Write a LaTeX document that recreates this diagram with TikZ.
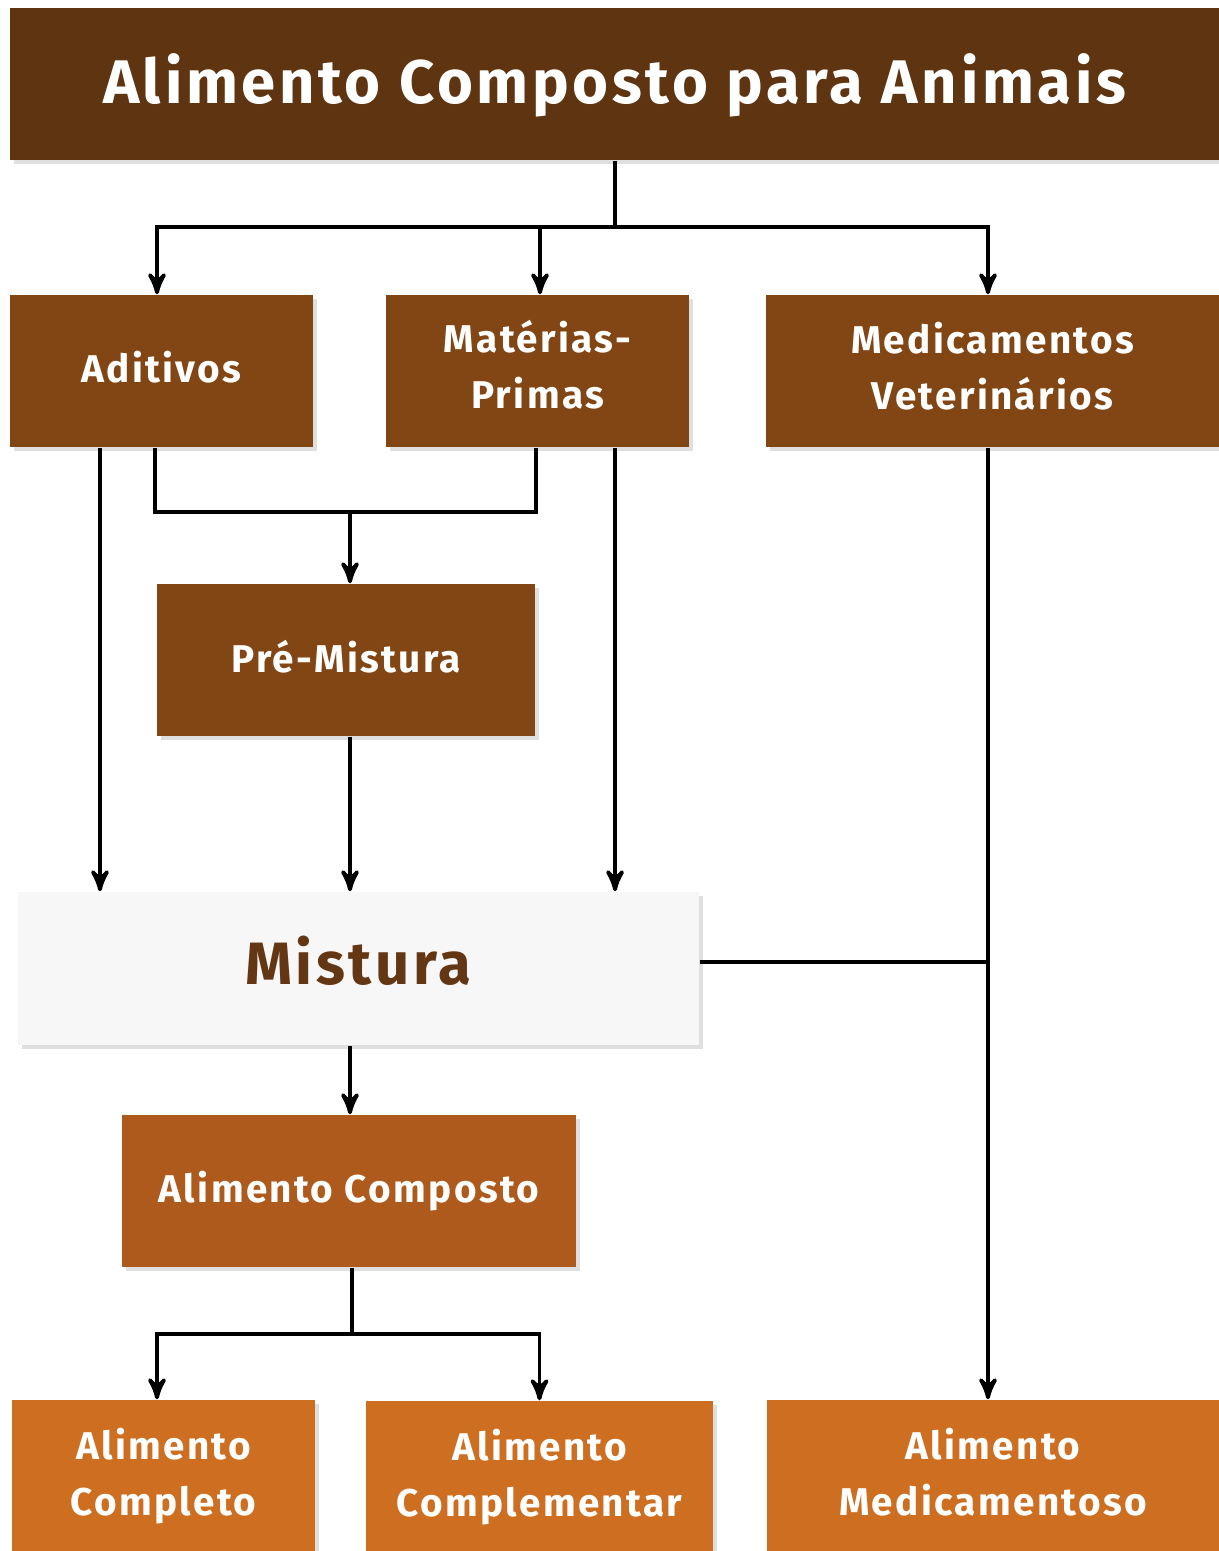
\documentclass[tikz,border=0pt]{standalone}
\usepackage{fontspec}
\setmainfont{Fira Sans}[LetterSpace=6.0]
\usetikzlibrary{arrows,shadows}
\definecolor{darkbrown}{RGB}{95, 52, 16}
\definecolor{brown}{RGB}{130, 70, 20}
\definecolor{rust}{RGB}{173, 90, 28}
\definecolor{ochre}{RGB}{205, 110, 32}
\definecolor{paper}{RGB}{247, 247, 247}
\definecolor{mixtext}{RGB}{100, 55, 20}

\begin{document}
\begin{tikzpicture}
  [
    x=0.01cm, y=-0.01cm,
    flow/.style={line width=1.1pt, ->, >=stealth'},
    link/.style={line width=1.1pt},
    box/.style={rectangle, inner sep=0pt, minimum height=1.52cm, align=center,
      text=white, font=\bfseries\fontsize{11}{16}\selectfont,
      drop shadow={opacity=0.25, shadow xshift=1.2pt, shadow yshift=-1.2pt}},
    header/.style={box, fill=darkbrown, font=\bfseries\fontsize{17.5}{21}\selectfont},
    input/.style={box, fill=brown},
    mix/.style={box, fill=paper, text=mixtext, font=\bfseries\fontsize{17}{20}\selectfont},
    product/.style={box, fill=rust},
    final/.style={box, fill=ochre}
  ]
  \useasboundingbox (0, 0) rectangle (1219, 1551);

  % boxes
  \node[header, minimum width=12.09cm, text depth=3pt] (title) at (614.5, 84) {Alimento Composto para Animais};

  \node[input, minimum width=3.03cm, text depth=2.3pt] (aditivos) at (161.5, 371) {Aditivos};
  \node[input, minimum width=3.03cm, text depth=3.8pt] (materias) at (537.5, 371) {Matérias-\\Primas};
  \node[input, minimum width=4.53cm, text depth=2.8pt] (medic) at (992.5, 371) {Medicamentos\\Veterinários};

  \node[input, minimum width=3.78cm, text depth=2pt] (premistura) at (346, 660) {Pré-Mistura};

  \node[mix, minimum width=6.81cm, minimum height=1.53cm, text depth=4.6pt] (mistura) at (358.5, 968.5) {Mistura};

  \node[product, minimum width=4.54cm] (composto) at (349, 1191) {Alimento Composto};

  \node[final, minimum width=3.03cm] (completo) at (163.5, 1476) {Alimento\\Completo};
  \node[final, minimum width=3.47cm] (complementar) at (539.5, 1477) {Alimento\\Complementar};
  \node[final, minimum width=4.52cm, text depth=2.3pt] (medicamentoso) at (993, 1476) {Alimento\\Medicamentoso};

  % connectors
  \coordinate (split) at (615, 227);
  \draw[link] (title.south -| split) -- (split);
  \draw[flow] (split) -| ([xshift=-0.045cm]aditivos.north);
  \draw[flow] (split) -| ([xshift=0.025cm]materias.north);
  \draw[flow] (split) -| ([xshift=-0.045cm]medic.north);

  \coordinate (join) at (350, 512);
  \draw[link] ([xshift=-0.065cm]aditivos.south) |- (join) -| ([xshift=-0.015cm]materias.south);
  \draw[flow] (join) -- (join |- premistura.north);

  \draw[flow] ([xshift=-0.615cm]aditivos.south) -- ([xshift=-0.615cm]aditivos.south |- mistura.north);
  \draw[flow] ([xshift=0.775cm]materias.south) -- ([xshift=0.775cm]materias.south |- mistura.north);
  \draw[flow] (premistura.south -| join) -- (join |- mistura.north);

  \coordinate (medline) at (988, 962);
  \draw[flow] ([xshift=-0.045cm]medic.south) -- ([xshift=-0.045cm]medic.south |- medicamentoso.north);
  \draw[link] (mistura.east |- medline) -- (medline);

  \draw[flow] (mistura.south -| join) -- (join |- composto.north);

  \coordinate (fork) at (352, 1334);
  \draw[link] (composto.south -| fork) -- (fork);
  \draw[flow] (fork) -| ([xshift=-0.065cm]completo.north);
  \draw[flow] (fork) -| (complementar.north);

\end{tikzpicture}
\end{document}
